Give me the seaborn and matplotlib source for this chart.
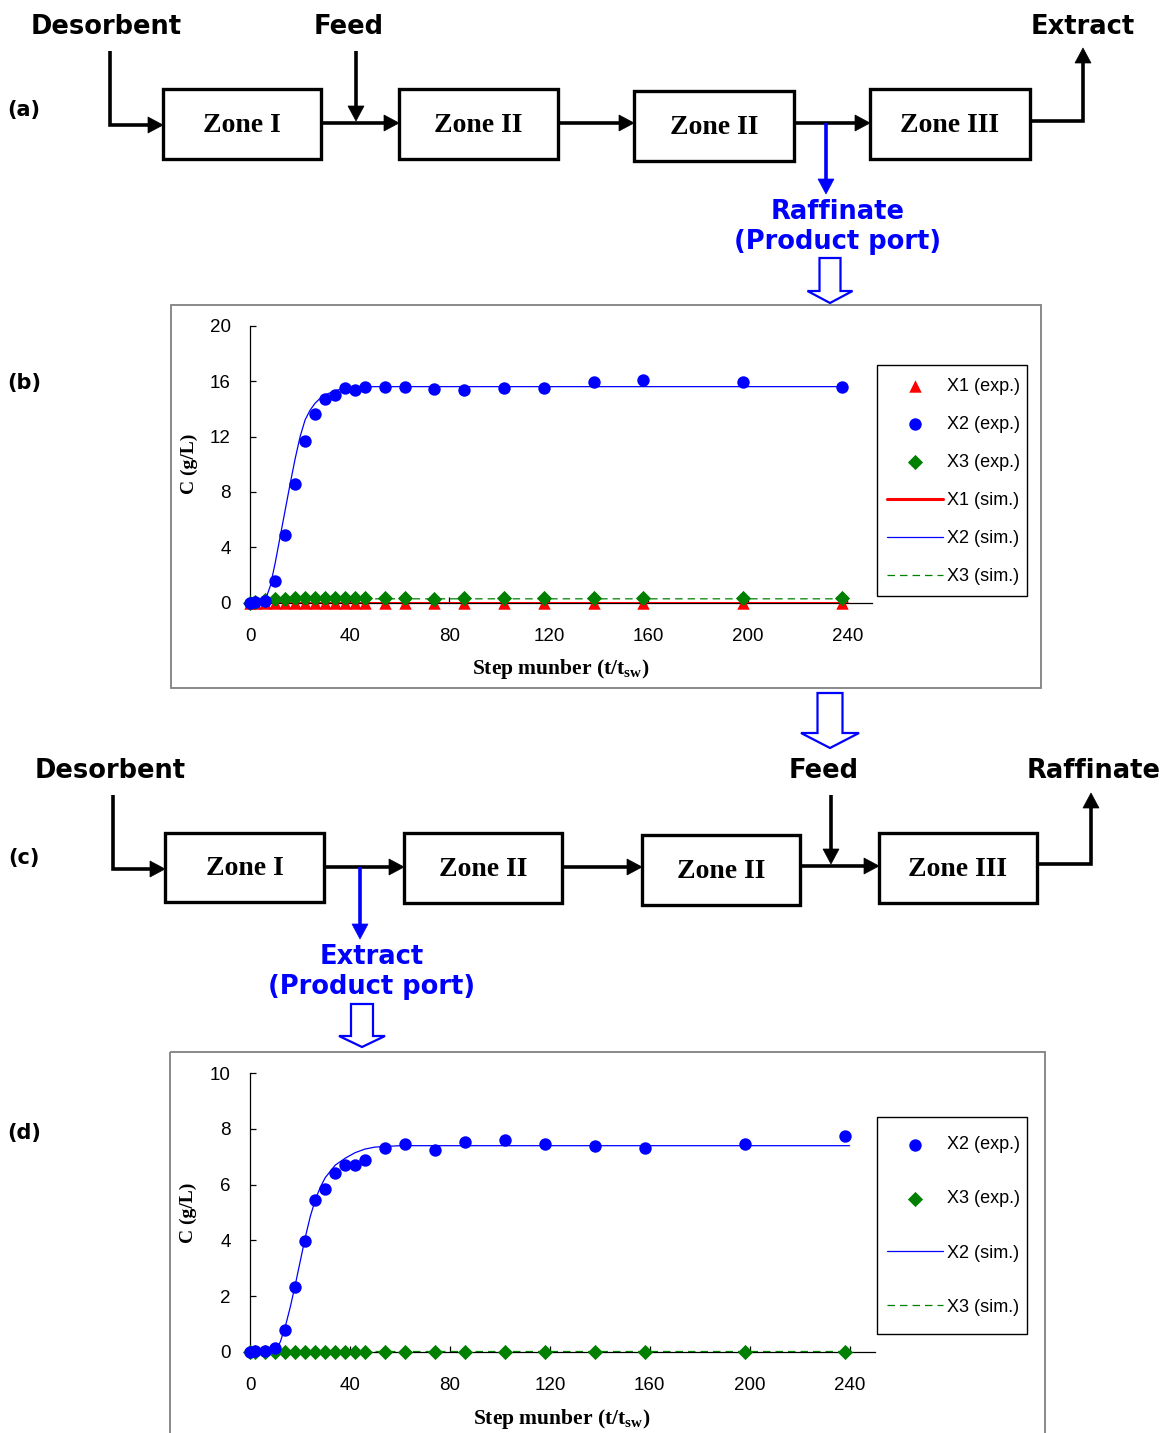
import numpy as np
import pandas as pd
import matplotlib
matplotlib.use("Agg")
import matplotlib.pyplot as plt
import matplotlib.patches as mpatches
import seaborn as sns

# ------------------------------------------------------------------ data
steps = [0, 2, 6, 10, 14, 18, 22, 26, 30, 34, 38, 42, 46, 54, 62, 74, 86, 102, 118, 138, 158, 198, 238]

# (b) raffinate port
b_x1_exp = [0, 0, 0, 0, 0, 0, 0, 0, 0, 0, 0, 0, 0, 0, 0, 0, 0, 0, 0, 0, 0, 0, 0]
b_x2_exp = [0, 0.05, 0.1, 1.6, 4.9, 8.6, 11.7, 13.6, 14.7, 15.0, 15.5, 15.35, 15.55,
            15.55, 15.55, 15.45, 15.35, 15.5, 15.5, 15.95, 16.05, 15.95, 15.55]
b_x3_exp = [0, 0.05, 0.18, 0.26, 0.3, 0.33, 0.35, 0.33, 0.33, 0.33, 0.35, 0.33, 0.35,
            0.33, 0.33, 0.3, 0.33, 0.33, 0.33, 0.33, 0.33, 0.33, 0.33]

sim_steps = [0, 4, 6, 8, 10, 12, 14, 16, 18, 20, 22, 24, 26, 28, 30, 34, 38, 42, 46, 50,
             60, 80, 120, 160, 200, 240]
b_x1_sim = [0, 0, 0, 0, 0, 0, 0, 0, 0, 0, 0, 0, 0, 0, 0, 0, 0, 0, 0, 0, 0, 0, 0, 0, 0, 0]
b_x2_sim = [0, 0.02, 0.2, 1.2, 2.9, 4.8, 6.7, 8.6, 10.4, 12.0, 13.2, 13.9, 14.4, 14.75, 15.0,
            15.3, 15.5, 15.55, 15.58, 15.6, 15.6, 15.6, 15.6, 15.6, 15.6, 15.6]
b_x3_sim = [0, 0.05, 0.1, 0.18, 0.23, 0.26, 0.28, 0.28, 0.28, 0.28, 0.28, 0.28, 0.28, 0.28,
            0.28, 0.28, 0.28, 0.28, 0.28, 0.28, 0.28, 0.28, 0.28, 0.28, 0.28, 0.28]

# (d) extract port
d_x2_exp = [0, 0.02, 0.02, 0.14, 0.78, 2.31, 3.99, 5.46, 5.83, 6.42, 6.71, 6.72, 6.9,
            7.31, 7.45, 7.23, 7.52, 7.62, 7.46, 7.40, 7.32, 7.47, 7.75]
d_x3_exp = [0, 0, 0, 0, 0, 0, 0, 0, 0, 0, 0, 0, 0, 0, 0, 0, 0, 0, 0, 0, 0, 0, 0]
d_x2_sim = [0, 0, 0, 0.01, 0.05, 0.35, 0.9, 1.6, 2.4, 3.25, 4.1, 4.85, 5.45, 5.9, 6.25,
            6.7, 6.95, 7.15, 7.28, 7.35, 7.4, 7.4, 7.4, 7.4, 7.4, 7.4]
d_x3_sim = [0.02, 0.02, 0.02, 0.02, 0.02, 0.02, 0.02, 0.02, 0.02, 0.02, 0.02, 0.02, 0.02,
            0.02, 0.02, 0.02, 0.02, 0.02, 0.02, 0.02, 0.02, 0.02, 0.02, 0.02, 0.02, 0.02]

x_ticks = [0, 40, 80, 120, 160, 200, 240]
b_y_ticks = [0, 4, 8, 12, 16, 20]
d_y_ticks = [0, 2, 4, 6, 8, 10]

# ------------------------------------------------------------------ style
sns.set_style("white")
plt.rcParams["font.family"] = ["Liberation Sans", "DejaVu Sans"]
plt.rcParams["text.color"] = "black"
plt.rcParams["axes.labelcolor"] = "black"
plt.rcParams["xtick.color"] = "black"
plt.rcParams["ytick.color"] = "black"
plt.rcParams["mathtext.fontset"] = "custom"
plt.rcParams["mathtext.rm"] = "Liberation Serif:bold"
plt.rcParams["mathtext.bf"] = "Liberation Serif:bold"
plt.rcParams["mathtext.it"] = "Liberation Serif:bold"

RED, BLUE, GREEN = "#FF0000", "#0000FF", "#008000"
W, H = 1163, 1433
fig = plt.figure(figsize=(W / 100, H / 100), dpi=100)
fig.patch.set_facecolor("white")

bg = fig.add_axes([0, 0, 1, 1])
bg.set_xlim(0, W)
bg.set_ylim(H, 0)
bg.axis("off")

LW = 2.6
DIAG_FONT = ["DejaVu Sans"]
ZONE_FONT = ["Liberation Serif", "DejaVu Serif"]


def seg_arrow(pts, color="black", hl=15, hw=16):
    (x0, y0), (x1, y1) = pts[-2], pts[-1]
    d = np.hypot(x1 - x0, y1 - y0)
    ux, uy = (x1 - x0) / d, (y1 - y0) / d
    bx, by = x1 - ux * hl, y1 - uy * hl
    line = list(pts[:-1]) + [(bx, by)]
    xs, ys = zip(*line)
    bg.plot(xs, ys, color=color, lw=LW, solid_capstyle="butt", solid_joinstyle="miter")
    px, py = -uy, ux
    tri = [(x1, y1), (bx + px * hw / 2, by + py * hw / 2), (bx - px * hw / 2, by - py * hw / 2)]
    bg.add_patch(mpatches.Polygon(tri, closed=True, facecolor=color, edgecolor=color, lw=0.5))


def zone(l, t, r, b, label):
    bg.add_patch(mpatches.Rectangle((l, t), r - l, b - t, facecolor="white",
                                    edgecolor="black", lw=2.4, zorder=3))
    bg.text((l + r) / 2, (t + b) / 2 + 1, label, ha="center", va="center",
            family=ZONE_FONT, fontweight="bold", fontsize=20, color="black", zorder=4)


def hollow(xc, top, bottom, sw, hw, hl):
    pts = [(xc - sw / 2, top), (xc + sw / 2, top), (xc + sw / 2, bottom - hl),
           (xc + hw / 2, bottom - hl), (xc, bottom), (xc - hw / 2, bottom - hl),
           (xc - sw / 2, bottom - hl)]
    bg.add_patch(mpatches.Polygon(pts, closed=True, facecolor="white",
                                  edgecolor=BLUE, lw=1.6))


def dtext(x, y, s, color="black", size=18.5):
    bg.text(x, y, s, ha="center", va="center", family=DIAG_FONT,
            fontweight="bold", fontsize=size, color=color)


# ---------------- diagram (a)
seg_arrow([(110, 51), (110, 125), (163, 125)])
seg_arrow([(321, 123), (399, 123)])
seg_arrow([(356, 51), (356, 121)])
seg_arrow([(558, 123), (634, 123)])
seg_arrow([(794, 123), (870, 123)])
seg_arrow([(826, 123), (826, 194)], color=BLUE)
seg_arrow([(1030, 121), (1083, 121), (1083, 48)])
zone(163, 89, 321, 159, "Zone I")
zone(399, 89, 558, 159, "Zone II")
zone(634, 91, 794, 161, "Zone II")
zone(870, 89, 1030, 159, "Zone III")
dtext(106, 27, "Desorbent")
dtext(349, 27, "Feed")
dtext(1083, 27, "Extract")
dtext(838, 212, "Raffinate", BLUE)
dtext(838, 242, "(Product port)", BLUE)
hollow(830, 258, 303, 21, 45, 12)

# ---------------- diagram (c)
seg_arrow([(113, 795), (113, 869), (165, 869)])
seg_arrow([(324, 867), (404, 867)])
seg_arrow([(360, 867), (360, 939)], color=BLUE)
seg_arrow([(562, 867), (642, 867)])
seg_arrow([(800, 866), (879, 866)])
seg_arrow([(831, 795), (831, 864)])
seg_arrow([(1037, 864), (1091, 864), (1091, 793)])
zone(165, 833, 324, 902, "Zone I")
zone(404, 833, 562, 903, "Zone II")
zone(642, 835, 800, 905, "Zone II")
zone(879, 833, 1037, 903, "Zone III")
dtext(110, 771, "Desorbent")
dtext(824, 771, "Feed")
dtext(1094, 771, "Raffinate")
dtext(372, 957, "Extract", BLUE)
dtext(372, 987, "(Product port)", BLUE)
hollow(830, 693, 748, 25, 58, 15)
hollow(362, 1004, 1047, 22, 46, 11)

# panel letters
for lab, y in [("(a)", 110), ("(b)", 383), ("(c)", 858), ("(d)", 1133)]:
    dtext(24, y, lab, size=15)

# chart frames
bg.add_patch(mpatches.Rectangle((171, 305), 1041 - 171, 688 - 305, fill=False,
                                edgecolor="#808080", lw=1.3))
bg.add_patch(mpatches.Rectangle((170, 1052), 1045 - 170, 1450 - 1052, fill=False,
                                edgecolor="#808080", lw=1.3))
# legend frames
bg.add_patch(mpatches.Rectangle((877, 365), 1027 - 877, 596 - 365, fill=False,
                                edgecolor="black", lw=1.0))
bg.add_patch(mpatches.Rectangle((877, 1117), 1027 - 877, 1334 - 1117, fill=False,
                                edgecolor="black", lw=1.0))


# ---------------- charts
def px_axes(l, t, r, b):
    return fig.add_axes([l / W, 1 - b / H, (r - l) / W, (b - t) / H])


def style_axes(ax, yticks, ymax):
    ax.set_facecolor("none")
    ax.set_xlim(0, 250)
    ax.set_ylim(0, ymax)
    ax.set_xticks(x_ticks)
    ax.set_yticks(yticks)
    for s in ["top", "right"]:
        ax.spines[s].set_visible(False)
    for s in ["left", "bottom"]:
        ax.spines[s].set_color("black")
        ax.spines[s].set_linewidth(0.9)
    ax.tick_params(axis="both", direction="in", length=4.5, width=0.9,
                   labelsize=13.5, colors="black", left=True, bottom=True)
    ax.tick_params(axis="y", pad=14)
    ax.tick_params(axis="x", pad=18)
    ax.set_xlabel("Step munber (t/t$_{\\mathbf{sw}}$)", family=ZONE_FONT,
                  fontweight="bold", fontsize=15.5, va="center")
    ax.set_ylabel("C (g/L)", family=ZONE_FONT, fontweight="bold", fontsize=14,
                  va="center")
    ax.yaxis.set_label_coords(-0.099, 0.5)
    ax.xaxis.set_label_coords(0.499, -0.24)


def legend(ax, center_y, spacing):
    leg = ax.legend(loc="center left", bbox_to_anchor=(877 / W, 1 - center_y / H),
                    bbox_transform=fig.transFigure, borderaxespad=0,
                    frameon=False, fontsize=13, labelspacing=spacing,
                    handlelength=3.1, handletextpad=0.2, borderpad=0.55,
                    scatterpoints=1)
    return leg


MS = 80
# (b)
axb = px_axes(250.4, 325.7, 872.1, 602.7)
df_b = pd.DataFrame({"step": steps, "X1": b_x1_exp, "X2": b_x2_exp, "X3": b_x3_exp})
sim_b = pd.DataFrame({"step": sim_steps, "X1": b_x1_sim, "X2": b_x2_sim, "X3": b_x3_sim})
sns.scatterplot(data=df_b, x="step", y="X1", ax=axb, marker="^", color=RED, s=MS,
                linewidth=0, label="X1 (exp.)", clip_on=False, zorder=3)
sns.scatterplot(data=df_b, x="step", y="X2", ax=axb, marker="o", color=BLUE, s=MS,
                linewidth=0, label="X2 (exp.)", clip_on=False, zorder=5)
sns.scatterplot(data=df_b, x="step", y="X3", ax=axb, marker="D", color=GREEN, s=60,
                linewidth=0, label="X3 (exp.)", clip_on=False, zorder=4)
sns.lineplot(data=sim_b, x="step", y="X1", ax=axb, color=RED, lw=2.2,
             label="X1 (sim.)", errorbar=None, zorder=3.5)
sns.lineplot(data=sim_b, x="step", y="X2", ax=axb, color=BLUE, lw=0.9,
             label="X2 (sim.)", errorbar=None, zorder=6)
sns.lineplot(data=sim_b, x="step", y="X3", ax=axb, color=GREEN, lw=0.9,
             linestyle=(0, (6, 4)), label="X3 (sim.)", errorbar=None, zorder=3.6)
style_axes(axb, b_y_ticks, 20)
legend(axb, 481.5, 1.17)

# (d)
axd = px_axes(250.3, 1073.3, 874.5, 1351.7)
df_d = pd.DataFrame({"step": steps, "X2": d_x2_exp, "X3": d_x3_exp})
sim_d = pd.DataFrame({"step": sim_steps, "X2": d_x2_sim, "X3": d_x3_sim})
sns.scatterplot(data=df_d, x="step", y="X2", ax=axd, marker="o", color=BLUE, s=MS,
                linewidth=0, label="X2 (exp.)", clip_on=False, zorder=5)
sns.scatterplot(data=df_d, x="step", y="X3", ax=axd, marker="D", color=GREEN, s=60,
                linewidth=0, label="X3 (exp.)", clip_on=False, zorder=4)
sns.lineplot(data=sim_d, x="step", y="X2", ax=axd, color=BLUE, lw=0.9,
             label="X2 (sim.)", errorbar=None, zorder=6)
sns.lineplot(data=sim_d, x="step", y="X3", ax=axd, color=GREEN, lw=0.9,
             linestyle=(0, (6, 4)), label="X3 (sim.)", errorbar=None, zorder=3.6)
style_axes(axd, d_y_ticks, 10)
legend(axd, 1226, 2.05)

fig.savefig("out.png", dpi=100, facecolor="white")
